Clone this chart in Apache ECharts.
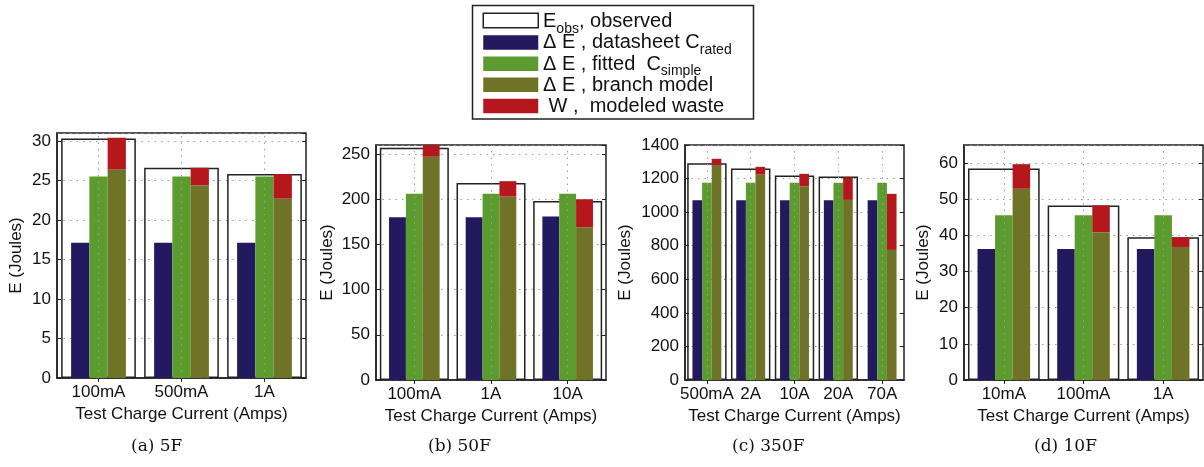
<!DOCTYPE html>
<html>
<head>
<meta charset="utf-8">
<script src="https://cdn.jsdelivr.net/npm/echarts@6/dist/echarts.min.js"></script>
<style>html,body{margin:0;padding:0;background:#fff}#c{width:1204px;height:467px}</style>
</head>
<body>
<div id="c"></div>
<script>
// ---- data ----
const catsA = ['100mA', '500mA', '1A'];
const obsA = [30.3, 26.6, 25.8];
const dsA = [17.1, 17.1, 17.1];
const fitA = [25.5, 25.5, 25.5];
const brA = [26.4, 24.4, 22.7];
const wA = [4.0, 2.2, 3.1];

const catsB = ['100mA', '1A', '10A'];
const obsB = [257, 218, 198];
const dsB = [180, 180, 181];
const fitB = [206, 206, 206];
const brB = [247, 203, 169];
const wB = [13, 17, 31];

const catsC = ['500mA', '2A', '10A', '20A', '70A'];
const obsC = [1292, 1260, 1218, 1212, '-'];
const dsC = [1071, 1071, 1071, 1071, 1071];
const fitC = [1175, 1175, 1175, 1175, 1175];
const brC = [1282, 1224, 1153, 1073, 775];
const wC = [36, 46, 75, 133, 334];

const catsD = ['10mA', '100mA', '1A'];
const obsD = [58.5, 48.3, 39.5];
const dsD = [36.2, 36.2, 36.2];
const fitD = [45.6, 45.6, 45.6];
const brD = [52.9, 40.9, 36.8];
const wD = [6.8, 7.4, 2.7];

const yMax = [31, 260, 1400, 65];
const yStep = [5, 50, 200, 10];
const captions = ['(a) 5F', '(b) 50F', '(c) 350F', '(d) 10F'];
const legendKeys = ['obs', 'ds', 'fit', 'br', 'w'];
const legendLabels = [
  '{n|E}{s|obs}{n|, observed}',
  '{n|Δ E , datasheet C}{s|rated}',
  '{n|Δ E , fitted  C}{s|simple}',
  '{n|Δ E , branch model}',
  '{n| W ,  modeled waste}'
];

// ---- layout ----
const layout = [
  {grid: {left: 57, top: 133, width: 249, height: 245}, nameGap: 32, capX: 161},
  {grid: {left: 376, top: 145, width: 230, height: 235}, nameGap: 40, capX: 458},
  {grid: {left: 685, top: 145, width: 219, height: 235}, nameGap: 51, capX: 762},
  {grid: {left: 964, top: 145, width: 239, height: 235}, nameGap: 32, capX: 1064}
];
const dataSets = [
  {cats: catsA, obs: obsA, ds: dsA, fit: fitA, br: brA, w: wA},
  {cats: catsB, obs: obsB, ds: dsB, fit: fitB, br: brB, w: wB},
  {cats: catsC, obs: obsC, ds: dsC, fit: fitC, br: brC, w: wC},
  {cats: catsD, obs: obsD, ds: dsD, fit: fitD, br: brD, w: wD}
];

const COL = {ds: '#23195f', fit: '#5c9c2e', br: '#6f7328', w: '#b4181c'};
const FONT = 'Liberation Sans';
const FS = 17;
const dotted = {color: '#9a9a9a', width: 1, type: [1.5, 5]};

const grids = [], xAxes = [], yAxes = [], series = [], graphics = [];

dataSets.forEach((d, i) => {
  const L = layout[i];
  grids.push(Object.assign({show: true, borderColor: '#222', borderWidth: 1.5, backgroundColor: '#fff', containLabel: false}, L.grid));
  xAxes.push({
    type: 'category', gridIndex: i, data: d.cats, position: 'bottom',
    axisLine: {show: true, lineStyle: {color: '#222', width: 1.5}},
    axisTick: {show: true, inside: true, alignWithLabel: true, length: 4, lineStyle: {color: '#222'}},
    axisLabel: {interval: 0, fontSize: FS, fontFamily: FONT, color: '#111', margin: 6},
    splitLine: {show: false},
    name: 'Test Charge Current (Amps)', nameLocation: 'middle', nameGap: 25,
    nameTextStyle: {fontSize: FS, fontFamily: FONT, color: '#111'}
  });
  xAxes.push({
    type: 'category', gridIndex: i, data: d.cats, position: 'top',
    axisLine: {show: false},
    axisTick: {show: true, inside: true, alignWithLabel: true, length: 4, lineStyle: {color: '#222'}},
    axisLabel: {show: false}, splitLine: {show: false}
  });
  const yBase = {
    type: 'value', gridIndex: i, min: 0, max: yMax[i], interval: yStep[i]
  };
  yAxes.push(Object.assign({}, yBase, {
    position: 'left',
    axisLine: {show: true, lineStyle: {color: '#222', width: 1.5}},
    axisTick: {show: true, inside: true, length: 4, lineStyle: {color: '#222'}},
    axisLabel: {fontSize: FS, fontFamily: FONT, color: '#111', margin: 6,
      showMaxLabel: yMax[i] % yStep[i] === 0, formatter: v => String(v)},
    splitLine: {show: true, lineStyle: dotted},
    name: 'E (Joules)', nameLocation: 'middle', nameGap: L.nameGap,
    nameTextStyle: {fontSize: FS, fontFamily: FONT, color: '#111'}
  }));
  yAxes.push(Object.assign({}, yBase, {
    position: 'right',
    axisLine: {show: false},
    axisTick: {show: true, inside: true, length: 4, lineStyle: {color: '#222'}},
    axisLabel: {show: false}, splitLine: {show: false}
  }));
  const xb = 2 * i, xt = 2 * i + 1, yl = 2 * i;
  series.push({
    type: 'bar', name: 'obs', xAxisIndex: xt, yAxisIndex: yl, data: d.obs,
    barWidth: '90%', z: 1, silent: true,
    itemStyle: {color: 'rgba(0,0,0,0)', borderColor: '#222', borderWidth: 1.5},
    markLine: {
      silent: true, symbol: ['none', 'none'], label: {show: false},
      lineStyle: dotted,
      data: d.cats.map(c => ({xAxis: c}))
    }
  });
  const bar = (key, extra) => Object.assign({
    type: 'bar', name: key, xAxisIndex: xb, yAxisIndex: yl, data: d[key],
    barWidth: '22%', barGap: '0%', z: 3, silent: true,
    itemStyle: {color: COL[key]}
  }, extra || {});
  series.push(bar('ds'));
  series.push(bar('fit'));
  series.push(bar('br', {stack: 'st' + i}));
  series.push(bar('w', {stack: 'st' + i}));

  graphics.push({
    type: 'text', left: L.capX - 30, top: 438,
    style: {text: captions[i], font: '17px "DejaVu Serif"', fill: '#111'}
  });
});

// legend frame
graphics.push({
  type: 'rect', z: 0,
  shape: {x: 472.5, y: 5.5, width: 281, height: 113.5},
  style: {fill: '#fff', stroke: '#222', lineWidth: 1.5}
});
// legend labels (rich text with subscripts)
const LEG_TOP = 12.5, LEG_ITEM_H = 14.5, LEG_GAP = 6.7;
legendLabels.forEach((t, k) => {
  graphics.push({
    type: 'text', z: 20,
    x: 543, y: LEG_TOP + k * (LEG_ITEM_H + LEG_GAP) + LEG_ITEM_H / 2 - 8,
    style: {
      text: t, fill: '#111',
      rich: {
        n: {fontSize: 20, fontFamily: FONT, fill: '#111', lineHeight: 20, verticalAlign: 'top'},
        s: {fontSize: 14, fontFamily: FONT, fill: '#111', lineHeight: 14, verticalAlign: 'top', padding: [10, 0, 0, 0]}
      }
    }
  });
});

const option = {
  animation: false,
  backgroundColor: '#fff',
  grid: grids,
  xAxis: xAxes,
  yAxis: yAxes,
  series: series,
  graphic: graphics,
  legend: {
    orient: 'vertical', left: 482.5, top: LEG_TOP, z: 10,
    itemWidth: 55, itemHeight: LEG_ITEM_H, itemGap: LEG_GAP, icon: 'rect',
    selectedMode: false, padding: 0,
    data: [
      {name: 'obs', itemStyle: {color: '#fff', borderColor: '#222', borderWidth: 1.5}},
      'ds', 'fit', 'br', 'w'
    ],
    formatter: () => '',
    textStyle: {fontSize: 10}
  }
};

const chart = echarts.init(document.getElementById('c'), null, {renderer: 'canvas'});
chart.setOption(option);
</script>
</body>
</html>
